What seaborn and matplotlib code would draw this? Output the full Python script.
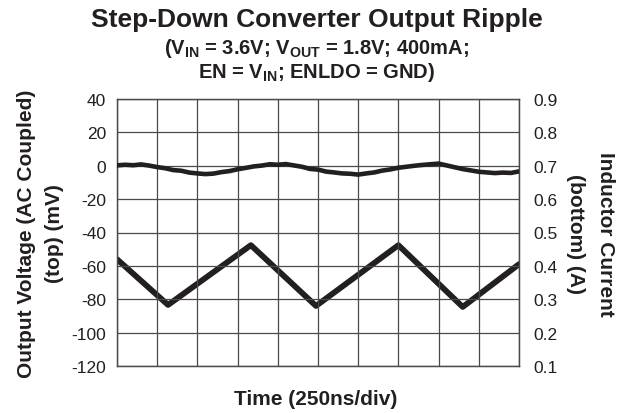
import numpy as np
import pandas as pd
import matplotlib
matplotlib.use("Agg")
import matplotlib.pyplot as plt
import seaborn as sns

# ---- data (time in divisions, 250 ns/div) ----
v_time = [0.0, 0.2, 0.4, 0.6, 0.8, 1.0, 1.2, 1.4, 1.6, 1.8,
          2.0, 2.2, 2.4, 2.6, 2.8, 3.0, 3.2, 3.4, 3.6, 3.8,
          4.0, 4.2, 4.4, 4.6, 4.8, 5.0, 5.2, 5.4, 5.6, 5.8,
          6.0, 6.2, 6.4, 6.6, 6.8, 7.0, 7.2, 7.4, 7.6, 7.8,
          8.0, 8.2, 8.4, 8.6, 8.8, 9.0, 9.2, 9.4, 9.6, 9.8, 10.0]
v_mV = [0.2, 0.6, 0.3, 0.8, 0.1, -0.8, -1.5, -2.6, -3.0, -4.1,
        -4.6, -5.0, -4.7, -3.8, -3.2, -2.1, -1.3, -0.4, 0.1, 0.9,
        0.6, 1.0, 0.2, -0.6, -1.9, -2.3, -3.5, -4.0, -4.6, -4.8,
        -5.3, -4.6, -4.0, -2.9, -2.2, -1.2, -0.6, 0.0, 0.5, 0.9,
        1.3, 0.2, -0.9, -2.0, -2.8, -3.6, -4.0, -4.4, -4.1, -4.3, -3.4]

i_time = [0.0, 1.27, 3.33, 4.95, 7.0, 8.6, 10.0]
i_A = [0.42, 0.283, 0.462, 0.28, 0.462, 0.277, 0.405]

left_ticks = [-120, -100, -80, -60, -40, -20, 0, 20, 40]
right_ticks = [0.1, 0.2, 0.3, 0.4, 0.5, 0.6, 0.7, 0.8, 0.9]

title = "Step-Down Converter Output Ripple"
sub1 = r"($\mathbf{V_{IN}}$ = 3.6V; $\mathbf{V_{OUT}}$ = 1.8V; 400mA;"
sub2 = r"EN = $\mathbf{V_{IN}}$; ENLDO = GND)"
xlabel = "Time (250ns/div)"
ylabel_l = ["Output Voltage (AC Coupled)", "(top) (mV)"]
ylabel_r = ["Inductor Current", "(bottom) (A)"]

# ---- style ----
sns.set_theme(style="white")
plt.rcParams['font.family'] = ['Liberation Sans', 'DejaVu Sans']
plt.rcParams['mathtext.fontset'] = 'custom'
plt.rcParams['mathtext.rm'] = 'Liberation Sans'
plt.rcParams['mathtext.bf'] = 'Liberation Sans:bold'
plt.rcParams['mathtext.it'] = 'Liberation Sans:italic'

ink = "#231f20"
W, H = 629, 414
fig = plt.figure(figsize=(W / 100, H / 100), dpi=100)
x0, x1, y0, y1 = 117, 519, 100, 367
ax = fig.add_axes([x0 / W, 1 - y1 / H, (x1 - x0) / W, (y1 - y0) / H])
ax2 = ax.twinx()

dv = pd.DataFrame({"t": v_time, "v": v_mV})
di = pd.DataFrame({"t": i_time, "i": i_A})

sns.lineplot(data=dv, x="t", y="v", ax=ax, color=ink, lw=3.3, legend=False, zorder=3)
sns.lineplot(data=di, x="t", y="i", ax=ax2, color=ink, lw=4.2, legend=False, zorder=3)

ax.set_xlim(0, 10)
ax.set_ylim(-120, 40)
ax2.set_ylim(0.1, 0.9)
ax.set_xticks(np.arange(0, 11, 1))
ax.set_xticklabels([])
ax.set_yticks(left_ticks)
ax.set_yticklabels([str(t) for t in left_ticks])
ax2.set_yticks(right_ticks)
ax2.set_yticklabels([f"{t:.1f}" for t in right_ticks])

ax.grid(True, color="#4a4a4a", lw=0.9)
ax2.grid(False)
for a in (ax, ax2):
    a.set_xlabel("")
    a.set_ylabel("")
    for s in a.spines.values():
        s.set_color("#4a4a4a")
        s.set_linewidth(0.9)
ax.tick_params(axis="both", length=0, labelsize=12.5, labelcolor=ink, pad=8)
ax2.tick_params(axis="y", length=0, labelsize=12.5, labelcolor=ink, pad=10)
ax.set_zorder(ax2.get_zorder() + 1)
ax.patch.set_visible(False)
ax2.patch.set_visible(True)
ax2.patch.set_facecolor("white")

cx = 317 / W
fig.text(cx, 1 - 20 / H, title, ha="center", va="center", fontsize=19,
         fontweight="bold", color=ink)
fig.text(cx, 1 - 49 / H, sub1, ha="center", va="center", fontsize=14.5,
         fontweight="bold", color=ink)
fig.text(cx, 1 - 72 / H, sub2, ha="center", va="center", fontsize=14.5,
         fontweight="bold", color=ink)
fig.text(316 / W, 1 - 400 / H, xlabel, ha="center", va="center", fontsize=15,
         fontweight="bold", color=ink)
cy = 1 - 234 / H
fig.text(27 / W, cy, ylabel_l[0], rotation=90, ha="center", va="center",
         fontsize=15, fontweight="bold", color=ink)
fig.text(55 / W, cy, ylabel_l[1], rotation=90, ha="center", va="center",
         fontsize=15, fontweight="bold", color=ink)
fig.text(606 / W, cy, ylabel_r[0], rotation=270, ha="center", va="center",
         fontsize=15, fontweight="bold", color=ink)
fig.text(575 / W, cy, ylabel_r[1], rotation=270, ha="center", va="center",
         fontsize=15, fontweight="bold", color=ink)

fig.savefig("out.png", dpi=100, facecolor="white")
